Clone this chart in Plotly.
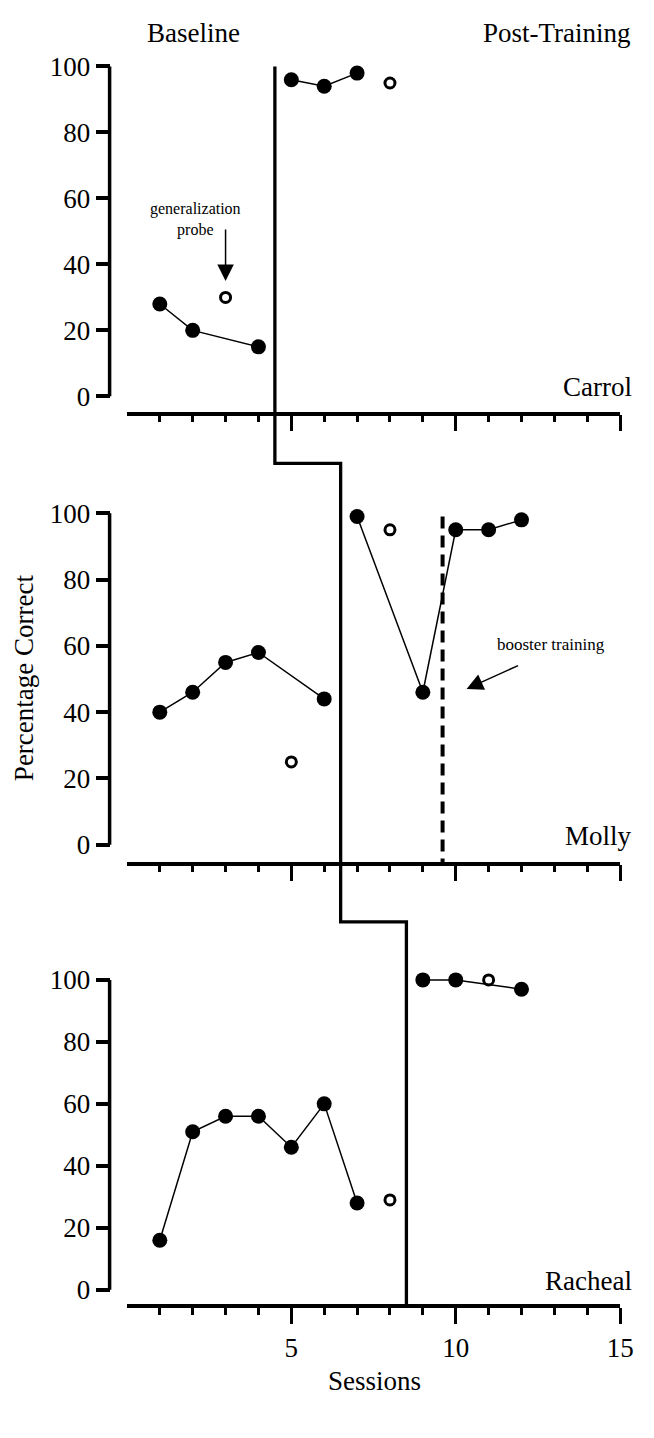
import plotly.graph_objects as go

W, H = 654, 1438

# ---------------- data ----------------
session_tickvals = [5, 10, 15]
session_ticktext = ["5", "10", "15"]
session_minor = list(range(1, 15))
pct_tickvals = [0, 20, 40, 60, 80, 100]
pct_ticktext = ["0", "20", "40", "60", "80", "100"]

participants = ["Carrol", "Molly", "Racheal"]

carrol_base_x = [1, 2, 4]
carrol_base_y = [28, 20, 15]
carrol_post_x = [5, 6, 7]
carrol_post_y = [96, 94, 98]
carrol_probe_x = [3, 8]
carrol_probe_y = [30, 95]

molly_base_x = [1, 2, 3, 4, 6]
molly_base_y = [40, 46, 55, 58, 44]
molly_post_x = [7, 9, 10, 11, 12]
molly_post_y = [99, 46, 95, 95, 98]
molly_probe_x = [5, 8]
molly_probe_y = [25, 95]

racheal_base_x = [1, 2, 3, 4, 5, 6, 7]
racheal_base_y = [16, 51, 56, 56, 46, 60, 28]
racheal_post_x = [9, 10, 12]
racheal_post_y = [100, 100, 97]
racheal_probe_x = [8, 11]
racheal_probe_y = [29, 100]

phase_change = [4.5, 6.5, 8.5]
booster_session = 9.6
booster_top = 99
probe_arrow_target = (3, 35)
booster_arrow_target = (10.33, 47)

# ---------------- geometry (pixels) ----------------
X0_PX, X15_PX = 129.7, 633.7
YSPINE_PX = 112
# (px of y=0, px of y=100, px of x-axis line)
panels_px = [(392.7, 61.7, 410.0), (842.7, 510.0, 861.7), (1289.3, 978.3, 1306.0)]
YMIN, YMAX = -6, 103
FONT = "Liberation Serif, Times New Roman, serif"
BIG = 27


def py(p):
    return 1 - p / H


def px(p):
    return p / W


fig = go.Figure()

series = [
    (carrol_base_x, carrol_base_y, carrol_post_x, carrol_post_y, carrol_probe_x, carrol_probe_y),
    (molly_base_x, molly_base_y, molly_post_x, molly_post_y, molly_probe_x, molly_probe_y),
    (racheal_base_x, racheal_base_y, racheal_post_x, racheal_post_y, racheal_probe_x, racheal_probe_y),
]

layout_axes = {}
shapes = []
annotations = []

for i, (bx, by, ax_, ay_, prx, pry) in enumerate(series):
    n = "" if i == 0 else str(i + 1)
    xa, ya = "x" + n, "y" + n
    for xs, ys in [(bx, by), (ax_, ay_)]:
        fig.add_trace(go.Scatter(
            x=xs, y=ys, xaxis=xa, yaxis=ya, mode="lines+markers",
            line=dict(color="black", width=1.5),
            marker=dict(symbol="circle", size=15, color="black"),
            cliponaxis=False, showlegend=False, hoverinfo="skip"))
    fig.add_trace(go.Scatter(
        x=prx, y=pry, xaxis=xa, yaxis=ya, mode="markers",
        marker=dict(symbol="circle-open", size=10, color="black",
                    line=dict(color="black", width=3)),
        cliponaxis=False, showlegend=False, hoverinfo="skip"))

    y0p, y100p, xap = panels_px[i]
    u = (y0p - y100p) / 100.0
    bottom = y0p - YMIN * u
    top = y100p - (YMAX - 100) * u
    layout_axes["xaxis" + n] = dict(
        domain=[px(X0_PX), px(X15_PX)], range=[0, 15], anchor="free",
        position=py(xap), showline=True, linewidth=3.5, linecolor="black",
        ticks="outside", tickvals=session_tickvals, ticktext=session_ticktext,
        ticklen=16, tickwidth=3, tickcolor="black",
        showticklabels=(i == 2),
        tickfont=dict(family=FONT, size=BIG, color="black"),
        minor=dict(tickvals=session_minor, ticks="outside", ticklen=7,
                   tickwidth=3, tickcolor="black", showgrid=False),
        showgrid=False, zeroline=False, fixedrange=True)
    layout_axes["yaxis" + n] = dict(
        domain=[py(bottom), py(top)], range=[YMIN, YMAX], anchor="free",
        position=px(YSPINE_PX), showline=False,
        ticks="outside", tickvals=pct_tickvals, ticktext=pct_ticktext,
        ticklen=14, tickwidth=3.5, tickcolor="black",
        tickfont=dict(family=FONT, size=BIG, color="black"),
        showgrid=False, zeroline=False, fixedrange=True)
    # y spine from 0 to 100
    shapes.append(dict(type="line", xref="paper", yref=ya,
                       x0=px(YSPINE_PX), x1=px(YSPINE_PX),
                       y0=pct_tickvals[0], y1=pct_tickvals[-1],
                       line=dict(color="black", width=3.5)))
    # participant label
    annotations.append(dict(text=participants[i], xref="paper", yref="paper",
                            x=px(648), y=py(y0p - 9), xanchor="right", yanchor="middle",
                            showarrow=False, font=dict(family=FONT, size=BIG, color="black")))

# staircase phase-change line
p1_top = panels_px[0][1]
step1 = 460.0
step2 = 920.0
last_axis = panels_px[2][2]
path = (f"M {phase_change[0]},{py(p1_top)} L {phase_change[0]},{py(step1)} "
        f"L {phase_change[1]},{py(step1)} L {phase_change[1]},{py(step2)} "
        f"L {phase_change[2]},{py(step2)} L {phase_change[2]},{py(last_axis)}")
shapes.append(dict(type="path", xref="x", yref="paper", path=path,
                   line=dict(color="black", width=3.3)))

# booster training dashed line (Molly)
y0p, y100p, xap = panels_px[1]
u = (y0p - y100p) / 100.0
shapes.append(dict(type="line", xref="x2", yref="y2",
                   x0=booster_session, x1=booster_session,
                   y0=booster_top, y1=(y0p - xap) / u,
                   line=dict(color="black", width=4, dash="12px,7px")))

annotations += [
    dict(text="Baseline", xref="paper", yref="paper", x=px(198), y=py(28),
         xanchor="center", yanchor="middle", showarrow=False,
         font=dict(family=FONT, size=BIG, color="black")),
    dict(text="Post-Training", xref="paper", yref="paper", x=px(647), y=py(28),
         xanchor="right", yanchor="middle", showarrow=False,
         font=dict(family=FONT, size=BIG, color="black")),
    dict(text="generalization<br>probe", xref="paper", yref="paper", x=px(200), y=py(215),
         xanchor="center", yanchor="middle", showarrow=False,
         font=dict(family=FONT, size=16, color="black")),
    dict(text="", xref="x", yref="y", x=probe_arrow_target[0], y=probe_arrow_target[1],
         ax=0, ay=-53, showarrow=True, arrowhead=2, arrowsize=2.2, arrowwidth=1.5,
         arrowcolor="black"),
    dict(text="booster training", xref="paper", yref="paper", x=px(563), y=py(642),
         xanchor="center", yanchor="middle", showarrow=False,
         font=dict(family=FONT, size=17, color="black")),
    dict(text="", xref="x2", yref="y2", x=booster_arrow_target[0], y=booster_arrow_target[1],
         ax=53, ay=-24, showarrow=True, arrowhead=2, arrowsize=2.2, arrowwidth=1.5,
         arrowcolor="black"),
    dict(text="Percentage Correct", xref="paper", yref="paper", x=px(24), y=py(675),
         xanchor="center", yanchor="middle", textangle=-90, showarrow=False,
         font=dict(family=FONT, size=BIG, color="black")),
    dict(text="Sessions", xref="paper", yref="paper", x=px(383), y=py(1381),
         xanchor="center", yanchor="middle", showarrow=False,
         font=dict(family=FONT, size=BIG, color="black")),
]

fig.update_layout(
    width=W, height=H, margin=dict(l=0, r=0, t=0, b=0),
    paper_bgcolor="white", plot_bgcolor="white",
    showlegend=False, shapes=shapes, annotations=annotations,
    font=dict(family=FONT, color="black"),
    **layout_axes)

fig.write_html("out.html", config={"displayModeBar": False},
               post_script="document.body.style.margin='0';document.body.style.overflow='hidden';")
